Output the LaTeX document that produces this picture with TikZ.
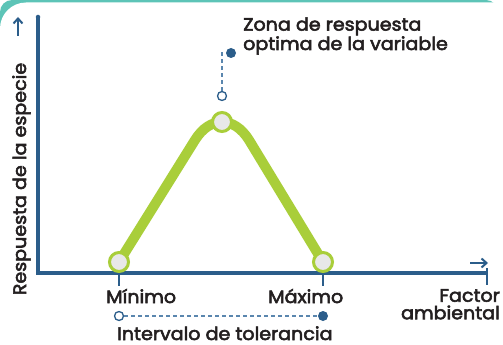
\documentclass[tikz,border=0pt]{standalone}
\usepackage{fontspec}
\setmainfont{Poppins}
\newfontfamily\labelfont{Poppins}[FakeBold=3, FakeStretch=1.06]
\usepackage{tikz}
\usetikzlibrary{calc}
\usetikzlibrary{positioning}
\usetikzlibrary{arrows.meta}
\definecolor{tealbg}{HTML}{5DC4B7}
\definecolor{axisblue}{HTML}{2B5D8A}
\definecolor{dashblue}{HTML}{5A86AE}
\definecolor{curvegreen}{HTML}{A9CE3A}
\definecolor{dotgrey}{HTML}{E8E8E8}
\definecolor{ink}{HTML}{231F20}

\begin{document}
\begin{tikzpicture}[x=1pt, y=-1pt]

                \def\lw{4.5pt}

                % Styles for the curve, the axes and the markers
                \tikzset{
                    axis/.style={draw=axisblue, line width=\lw},
                    tick/.style={draw=axisblue, line width=2pt},
                    pointer/.style={draw=axisblue, line width=2pt,
                        -{Straight Barb[length=5pt, width=9pt]}},
                    curve/.style={draw=curvegreen, line width=10pt},
                    dot/.style={circle, draw=curvegreen, line width=3pt,
                        fill=dotgrey, minimum size=19pt, inner sep=0pt},
                    opendot/.style={circle, draw=axisblue, line width=1.3pt,
                        fill=white, minimum size=9pt, inner sep=0pt},
                    fulldot/.style={circle, fill=axisblue,
                        minimum size=10pt, inner sep=0pt},
                    dashline/.style={draw=dashblue, line width=1.3pt,
                        dash pattern=on 4pt off 3pt},
                    label/.style={text=ink, inner sep=0pt,
                        font=\labelfont\fontsize{18}{17.5}\selectfont}
                }

                \useasboundingbox (0,0) rectangle (503,345);

                % Background panel
                \fill[tealbg, rounded corners=12pt] (0,0) rectangle (498,40);
                \fill[white, rounded corners=26pt] (0,2.5) rectangle (530,380);

                % Axes
                \coordinate (ytop) at (38,17);
                \coordinate (origin) at (38,273);
                \coordinate (xend) at (487,273);
                \draw[axis] (ytop) -- (origin) -- (xend);
                \fill[axisblue] (ytop) circle (\lw/2);
                \draw[tick] ($(xend)+(0,-5)$) -- ($(xend)+(0,12)$);

                \coordinate (uptail) at (18,36);
                \coordinate (uphead) at (18,17);
                \draw[pointer] (uptail) -- (uphead);
                \coordinate (rttail) at (470,263);
                \coordinate (rthead) at (488,263);
                \draw[pointer] (rttail) -- (rthead);

                % Response curve
                \coordinate (pminpos) at (119,262);
                \coordinate (pmaxpos) at (323,262);
                \draw[curve] (pminpos) -- (195,140)
                    .. controls (210,116) and (234,116) .. (249,140)
                    -- (pmaxpos);

                \node[dot] (pmin) at (pminpos) {};
                \node[dot] (pmax) at (pmaxpos) {};
                \node[dot] (ppeak) at (222,122) {};

                % Ticks below the axis
                \coordinate (tmin) at (119,286);
                \coordinate (tmax) at (323,286);
                \draw[tick] (pmin |- origin) -- (tmin);
                \draw[tick] (pmax |- origin) -- (tmax);

                % Optimum call-out
                \node[opendot] (opt) at (222,96) {};
                \node[fulldot] (optend) at (231,53) {};
                \draw[dashline] (opt) |- (optend);
                \node[label, anchor=base west, align=left] (zona) at (243,50)
                    {Zona de respuesta\\optima de la variable};

                % Tolerance interval
                \node[opendot] (tolA) at (119,316) {};
                \node[fulldot] (tolB) at (323,316) {};
                \draw[dashline] (tolA) -- (tolB);

                % Labels
                \node[label, anchor=base west] (minlab) at (106,303) {Mínimo};
                \node[label, anchor=base west] (maxlab) at (268,303) {Máximo};
                \node[label, anchor=base west] (tollab) at (117,340)
                    {Intervalo de tolerancia};
                \node[label, anchor=north east, align=right] (factor) at (500,289)
                    {Factor\\ambiental};
                \node[label, rotate=90, anchor=base] (resp) at (26,179)
                    {Respuesta de la especie};

                \end{tikzpicture}
\end{document}
